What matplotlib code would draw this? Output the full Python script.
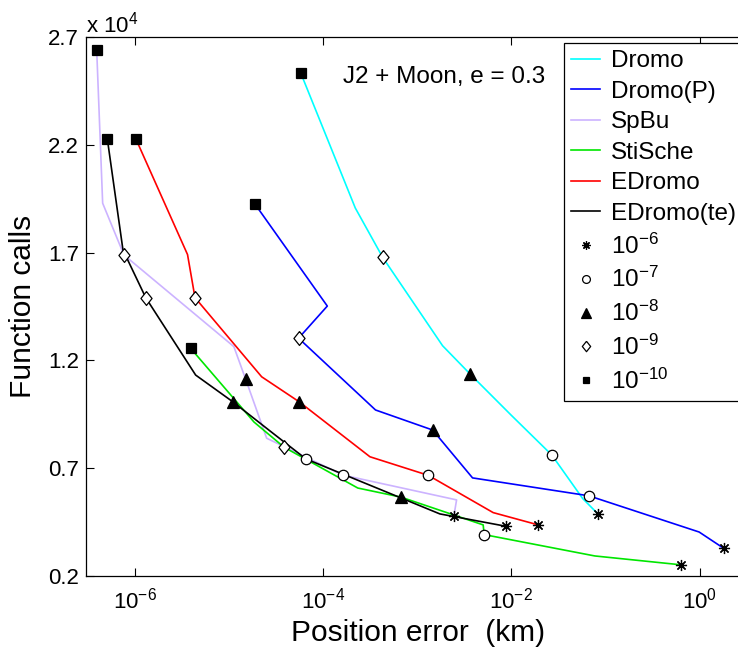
import numpy as np
import matplotlib
matplotlib.use('Agg')
import matplotlib.pyplot as plt
from matplotlib.lines import Line2D
from matplotlib.ticker import NullLocator

plt.rcParams['font.family'] = ['Liberation Sans', 'DejaVu Sans']
plt.rcParams['mathtext.fontset'] = 'custom'
plt.rcParams['mathtext.rm'] = 'Liberation Sans'
plt.rcParams['mathtext.it'] = 'Liberation Sans:italic'
plt.rcParams['mathtext.bf'] = 'Liberation Sans:bold'

# integrator tolerance (exponent) of every run, from 1e-10 up to 1e-6
tol_exp = [-10, -9.5, -9, -8.5, -8, -7.5, -7, -6.5, -6]

# position error (km) and number of function calls per formulation
dromo_err = [5.8e-5, 2.2e-4, 4.3e-4, 1.86e-3, 3.66e-3, 9.9e-3, 2.69e-2, 5.7e-2, 8.3e-2]
dromo_calls = [25330, 19070, 16780, 12680, 11360, 9470, 7610, 5600, 4880]

dromop_err = [1.88e-5, 1.11e-4, 5.5e-5, 3.61e-4, 1.46e-3, 3.87e-3, 6.65e-2, 0.986, 1.79]
dromop_calls = [19270, 14520, 13030, 9700, 8770, 6550, 5720, 4040, 3290]

spbu_err = [3.95e-7, 4.57e-7, 7.69e-7, 1.13e-5, 1.51e-5, 2.52e-5, 1.63e-4, 2.62e-3, 2.45e-3]
spbu_calls = [26400, 19290, 16890, 12640, 11120, 8390, 6680, 5530, 4780]

stische_err = [3.93e-6, 1.85e-5, 3.87e-5, 2.34e-4, 6.71e-4, 5.02e-3, 5.14e-3, 7.69e-2, 0.629]
stische_calls = [12560, 9140, 7970, 6080, 5660, 4370, 3920, 2930, 2520]

edromo_err = [1.03e-6, 3.64e-6, 4.37e-6, 2.23e-5, 5.58e-5, 3.15e-4, 1.31e-3, 6.41e-3, 1.93e-2]
edromo_calls = [22270, 16910, 14910, 11240, 10080, 7530, 6670, 4940, 4370]

edromote_err = [5.12e-7, 7.51e-7, 1.31e-6, 4.44e-6, 1.11e-5, 2.73e-5, 6.58e-5, 1.74e-3, 8.67e-3]
edromote_calls = [22280, 17120, 14910, 11320, 10070, 8730, 7430, 4880, 4310]

names = ['Dromo', 'Dromo(P)', 'SpBu', 'StiSche', 'EDromo', 'EDromo(te)']
colors = ['#00ffff', '#0000ff', '#ccb3ff', '#00e600', '#ff0000', '#000000']
errors = [dromo_err, dromop_err, spbu_err, stische_err, edromo_err, edromote_err]
calls = [dromo_calls, dromop_calls, spbu_calls, stische_calls, edromo_calls, edromote_calls]

# upright diamond, a bit taller than wide
diamond = [(0, 1), (0.8, 0), (0, -1), (-0.8, 0), (0, 1)]

# marker style for each tolerance: (marker, size, facecolor)
tol_markers = {
    -6: ((8, 2, 0), 8, 'k'),
    -7: ('o', 7.5, 'w'),
    -8: ('^', 9, 'k'),
    -9: (diamond, 10, 'w'),
    -10: ('s', 6.5, 'k'),
}

yticks = [2000, 7000, 12000, 17000, 22000, 27000]

fig = plt.figure(figsize=(7.38, 6.55), dpi=100)
ax = fig.add_axes([86 / 738, 79 / 655, 664 / 738, 539 / 655])

for name, col, e, c in zip(names, colors, errors, calls):
    ax.plot(e, c, '-', color=col, lw=1.2, zorder=2)

for e, c in zip(errors, calls):
    for t, (mk, ms, fc) in tol_markers.items():
        i = tol_exp.index(t)
        ax.plot(e[i], c[i], linestyle='none', marker=mk, ms=ms, mfc=fc,
                mec='k', mew=0.9, zorder=3)

ax.set_xscale('log')
ax.set_xlim(10 ** -6.517, 10 ** 0.534)
ax.set_ylim(2000, 27000)
ax.set_xticks([1e-6, 1e-4, 1e-2, 1e0])
ax.xaxis.set_minor_locator(NullLocator())
ax.set_yticks(yticks)
ax.set_yticklabels([f'{v / 1e4:.1f}' for v in yticks])
ax.tick_params(direction='in', length=6, width=0.8, top=True, right=True,
               labelsize=16, pad=5)
ax.tick_params(axis='x', pad=8)
for s in ax.spines.values():
    s.set_linewidth(0.9)

ax.set_xlabel('Position error  (km)', fontsize=21.5, labelpad=4)
ax.set_ylabel('Function calls', fontsize=21.5, labelpad=8)

fig.text(86 / 738, 1 - 33 / 655, r'x 10$^4$', fontsize=16,
         ha='left', va='baseline')
fig.text(343 / 738, 1 - 83 / 655, 'J2 + Moon, e = 0.3', fontsize=17.5,
         ha='left', va='baseline')

handles = [Line2D([], [], color=col, lw=1.2) for col in colors]
labels = list(names)
for t in [-6, -7, -8, -9, -10]:
    mk, ms, fc = tol_markers[t]
    handles.append(Line2D([], [], linestyle='none', marker=mk, ms=ms * 0.75,
                          mfc=fc, mec='k', mew=0.9))
    labels.append(f'$10^{{{t}}}$')

# legend box runs past the right edge of the figure
leg = ax.legend(handles, labels, loc='upper left', mode='expand',
                bbox_to_anchor=(564 / 738, 1 - 43 / 655, 200 / 738, 0),
                bbox_transform=fig.transFigure, fontsize=17.5,
                frameon=True, fancybox=False, edgecolor='k', framealpha=1,
                handlelength=1.2, handletextpad=0.45, labelspacing=0.35,
                borderpad=0.3, borderaxespad=0)
leg.get_frame().set_linewidth(0.9)

fig.savefig('out.png', dpi=100)
